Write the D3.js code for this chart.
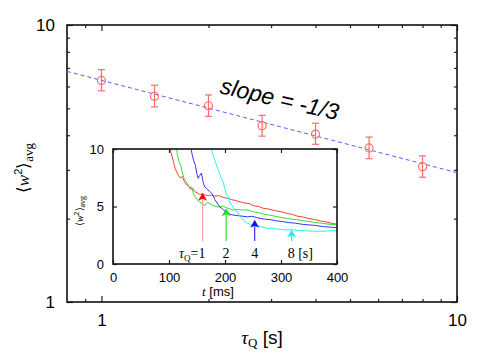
<!DOCTYPE html>
<html>
<head>
<meta charset="utf-8">
<script src="https://cdn.jsdelivr.net/npm/d3@7"></script>
<style>
    body { margin: 0; background: #fff; }
    svg { display: block; font-family: "Liberation Sans", Arial, sans-serif; }
    .serif { font-family: "Liberation Serif", "Times New Roman", serif; }
</style>
</head>
<body>
<div id="chart"></div>
<script>

// main data: quench time (s) vs averaged width, with error bar bounds
const tauQ = [1, 1.41, 2, 2.83, 4, 5.66, 8];
const wAvg = [6.31, 5.53, 5.11, 4.33, 4.04, 3.60, 3.08];
const wLow = [5.79, 5.06, 4.68, 3.97, 3.71, 3.29, 2.82];
const wHigh = [6.90, 6.06, 5.59, 4.72, 4.42, 3.94, 3.37];

// fitted power law endpoints (slope -1/3 in log-log)
const fitTau = [0.8, 10];
const fitW = [6.8, 2.93];

const xMajorTicks = [1, 10];
const xMinorTicks = [0.9, 2, 3, 4, 5, 6, 7, 8, 9];
const yMajorTicks = [1, 10];
const yMinorTicks = [2, 3, 4, 5, 6, 7, 8, 9];

// inset data: time (ms) vs width for each quench time
const redT = [100, 104, 108, 111, 114, 117, 120, 124, 127, 131, 135, 138, 142, 146, 150, 155, 160, 165, 170, 176, 182, 188, 194, 200, 206, 212, 220, 228, 236, 244, 252, 260, 268, 276, 284, 292, 300, 310, 320, 330, 340, 350, 360, 370, 380, 390, 400];
const redW = [10.5, 9.6, 8.9, 8.3, 8.0, 7.7, 7.5, 7.6, 7.2, 6.9, 6.8, 6.5, 6.6, 6.3, 6.2, 6.05, 6.1, 6.0, 5.95, 6.0, 5.9, 5.95, 5.85, 5.75, 5.7, 5.6, 5.5, 5.4, 5.3, 5.25, 5.05, 5.0, 4.85, 4.8, 4.7, 4.62, 4.55, 4.4, 4.32, 4.15, 4.08, 3.95, 3.87, 3.75, 3.66, 3.55, 3.45];
const greenT = [112, 115, 118, 121, 124, 127, 130, 134, 137, 140, 143, 146, 150, 155, 160, 164, 168, 173, 178, 184, 190, 196, 202, 208, 215, 222, 230, 238, 246, 254, 262, 270, 280, 290, 300, 312, 324, 336, 348, 360, 372, 386, 400];
const greenW = [10.5, 9.5, 8.9, 8.6, 7.9, 7.45, 7.2, 6.9, 6.6, 6.7, 6.2, 5.9, 5.6, 5.4, 5.2, 5.1, 5.35, 5.25, 5.1, 5.0, 4.95, 5.05, 4.9, 4.8, 4.7, 4.75, 4.7, 4.7, 4.62, 4.5, 4.45, 4.32, 4.25, 4.15, 4.05, 3.95, 3.87, 3.8, 3.7, 3.62, 3.55, 3.46, 3.4];
const blueT = [138, 141, 144, 147, 150, 152, 155, 158, 161, 164, 168, 173, 177, 182, 186, 190, 195, 200, 205, 210, 216, 224, 232, 240, 248, 256, 264, 272, 282, 292, 302, 314, 326, 338, 350, 362, 376, 388, 400];
const blueW = [10.5, 9.6, 9.0, 8.6, 7.8, 7.45, 7.7, 7.9, 7.1, 6.7, 6.5, 6.3, 6.1, 5.6, 5.3, 5.0, 4.8, 4.6, 4.45, 4.3, 4.25, 4.2, 4.15, 4.1, 4.15, 4.05, 3.95, 3.9, 3.85, 3.75, 3.7, 3.6, 3.55, 3.45, 3.4, 3.35, 3.25, 3.2, 3.15];
const cyanT = [174, 177, 180, 184, 187, 190, 193, 196, 199, 202, 205, 208, 211, 215, 219, 222, 226, 230, 234, 238, 243, 248, 254, 260, 268, 276, 284, 292, 300, 310, 320, 330, 342, 354, 366, 378, 390, 400];
const cyanW = [10.5, 9.7, 9.3, 8.7, 8.3, 7.9, 7.5, 7.2, 6.7, 6.1, 5.9, 5.4, 5.2, 4.9, 4.6, 4.6, 4.2, 3.95, 3.8, 3.6, 3.5, 3.4, 3.35, 3.3, 3.2, 3.1, 3.1, 3.05, 3.0, 2.95, 3.0, 2.9, 2.9, 2.85, 2.85, 2.85, 2.9, 2.9];

// arrows marking where each curve reaches its plateau
const arrowT = [160, 202, 253, 319];
const arrowW = [6.2, 4.85, 3.85, 3.0];
const arrowBase = 2.0;

const insetXTicks = [0, 100, 200, 300, 400];
const insetYTicks = [0, 5, 10];

const width = 491, height = 353;

// main plot area
let margin = {top: 25, left: 67, right: 34, bottom: 51};

let svg = d3.select('#chart')
    .append('svg')
    .attr('width', width)
    .attr('height', height);

let xScale = d3.scaleLog()
        .domain([0.8, 10])
        .range([margin.left, width - margin.right]),
    yScale = d3.scaleLog()
        .domain([1, 10])
        .range([height - margin.bottom, margin.top]);

// helper to draw inward ticks on all four sides
function frameAxes(g, xs, ys, xMaj, xMin, yMaj, yMin, majLen, minLen, fontSize, pad, xFmt, yFmt) {
    let left = xs.range()[0], right = xs.range()[1],
        bottom = ys.range()[0], top = ys.range()[1];

    let axes = [
        [d3.axisBottom(xs).tickValues(xMaj).tickSize(-majLen).tickPadding(pad).tickFormat(xFmt), `translate(0,${bottom})`],
        [d3.axisBottom(xs).tickValues(xMin).tickSize(-minLen).tickFormat(''), `translate(0,${bottom})`],
        [d3.axisTop(xs).tickValues(xMaj).tickSize(-majLen).tickFormat(''), `translate(0,${top})`],
        [d3.axisTop(xs).tickValues(xMin).tickSize(-minLen).tickFormat(''), `translate(0,${top})`],
        [d3.axisLeft(ys).tickValues(yMaj).tickSize(-majLen).tickPadding(pad).tickFormat(yFmt), `translate(${left},0)`],
        [d3.axisLeft(ys).tickValues(yMin).tickSize(-minLen).tickFormat(''), `translate(${left},0)`],
        [d3.axisRight(ys).tickValues(yMaj).tickSize(-majLen).tickFormat(''), `translate(${right},0)`],
        [d3.axisRight(ys).tickValues(yMin).tickSize(-minLen).tickFormat(''), `translate(${right},0)`]
    ];

    axes.forEach(([ax, tr]) => {
        let a = g.append('g').attr('transform', tr).call(ax);
        a.select('.domain').remove();
        a.selectAll('line').attr('stroke', '#222').attr('stroke-width', 1.2);
        a.selectAll('text')
            .attr('fill', '#000')
            .style('font-family', '"Liberation Sans", Arial, sans-serif')
            .style('font-size', fontSize + 'px');
    });

    // frame
    g.append('rect')
        .attr('x', left)
        .attr('y', top)
        .attr('width', right - left)
        .attr('height', bottom - top)
        .attr('fill', 'none')
        .attr('stroke', '#111')
        .attr('stroke-width', 1.6);
}

let mainG = svg.append('g');
frameAxes(mainG, xScale, yScale, xMajorTicks, xMinorTicks, yMajorTicks, yMinorTicks,
    6, 3, 17, 12, d3.format('d'), d3.format('d'));

// fit line
let fitData = fitTau.map((t, i) => ({t: t, w: fitW[i]}));
mainG.append('path')
    .datum(fitData)
    .attr('fill', 'none')
    .attr('stroke', '#5b5bff')
    .attr('stroke-width', 1)
    .attr('stroke-dasharray', '4,3')
    .attr('d', d3.line().x(d => xScale(d.t)).y(d => yScale(d.w)));

// error bars and points
let pts = tauQ.map((t, i) => ({t: t, w: wAvg[i], lo: wLow[i], hi: wHigh[i]}));
let errColor = '#ff6b6b';

let eb = mainG.selectAll('.err')
    .data(pts).enter()
    .append('g')
    .classed('err', true);

eb.append('line')
    .attr('x1', d => xScale(d.t)).attr('x2', d => xScale(d.t))
    .attr('y1', d => yScale(d.lo)).attr('y2', d => yScale(d.hi))
    .attr('stroke', errColor).attr('stroke-width', 1.2);
eb.append('line')
    .attr('x1', d => xScale(d.t) - 3.5).attr('x2', d => xScale(d.t) + 3.5)
    .attr('y1', d => yScale(d.lo)).attr('y2', d => yScale(d.lo))
    .attr('stroke', errColor).attr('stroke-width', 1.2);
eb.append('line')
    .attr('x1', d => xScale(d.t) - 3.5).attr('x2', d => xScale(d.t) + 3.5)
    .attr('y1', d => yScale(d.hi)).attr('y2', d => yScale(d.hi))
    .attr('stroke', errColor).attr('stroke-width', 1.2);
eb.append('circle')
    .attr('cx', d => xScale(d.t))
    .attr('cy', d => yScale(d.w))
    .attr('r', 4)
    .attr('fill', 'none')
    .attr('stroke', errColor)
    .attr('stroke-width', 1.2);

// slope annotation
svg.append('text')
    .attr('transform', 'translate(219,93) rotate(13)')
    .style('font-size', '23px')
    .style('font-style', 'italic')
    .text('slope = -1/3');

// main axis labels
let xLab = svg.append('text')
    .attr('x', 262)
    .attr('y', 344)
    .attr('text-anchor', 'middle')
    .style('font-size', '19px');
xLab.append('tspan').classed('serif', true).style('font-style', 'italic').text('τ');
xLab.append('tspan').classed('serif', true).attr('dy', 3).style('font-size', '13px').text('Q');
xLab.append('tspan').attr('dy', -3).text(' [s]');

let yLab = svg.append('text')
    .attr('transform', 'translate(29,168) rotate(-90)')
    .attr('text-anchor', 'middle')
    .style('font-size', '17px');
yLab.append('tspan').text('⟨');
yLab.append('tspan').classed('serif', true).style('font-style', 'italic').text('w');
yLab.append('tspan').attr('dy', -7).style('font-size', '11px').text('2');
yLab.append('tspan').attr('dy', 7).text('⟩');
yLab.append('tspan').classed('serif', true).attr('dy', 4).style('font-size', '13px').text('avg');

// inset
let xi = d3.scaleLinear().domain([0, 400]).range([113, 337]),
    yi = d3.scaleLinear().domain([0, 10]).range([264, 149]);

let inset = svg.append('g');
inset.append('rect')
    .attr('x', 113).attr('y', 149)
    .attr('width', 224).attr('height', 115)
    .attr('fill', '#fff');

svg.append('clipPath')
    .attr('id', 'insetClip')
    .append('rect')
    .attr('x', 113).attr('y', 149)
    .attr('width', 224).attr('height', 115);

let curves = [
    {t: redT, w: redW, color: '#ff3b3b'},
    {t: greenT, w: greenW, color: '#33e033'},
    {t: blueT, w: blueW, color: '#3535ff'},
    {t: cyanT, w: cyanW, color: '#2ef0f0'}
];

let line = d3.line().x(d => xi(d[0])).y(d => yi(d[1]));
inset.append('g')
    .attr('clip-path', 'url(#insetClip)')
    .selectAll('path')
    .data(curves).enter()
    .append('path')
    .attr('fill', 'none')
    .attr('stroke', d => d.color)
    .attr('stroke-width', 1)
    .attr('d', d => line(d.t.map((t, i) => [t, d.w[i]])));

// arrows
let arrowColors = ['#ff0000', '#22dd22', '#1010ff', '#22eeee'];
let arrowLine = ['#ffa0a0', '#33dd33', '#3535ff', '#33eeee'];
let arrows = arrowT.map((t, i) => ({t: t, w: arrowW[i], c: arrowColors[i], lc: arrowLine[i]}));

let ag = inset.selectAll('.arrow')
    .data(arrows).enter()
    .append('g')
    .classed('arrow', true);
ag.append('line')
    .attr('x1', d => xi(d.t)).attr('x2', d => xi(d.t))
    .attr('y1', yi(arrowBase)).attr('y2', d => yi(d.w) + 4)
    .attr('stroke', d => d.lc)
    .attr('stroke-width', 1.2);
ag.append('path')
    .attr('fill', d => d.c)
    .attr('d', d => {
        let x = xi(d.t), y = yi(d.w);
        return `M${x},${y} L${x - 4.5},${y + 8} L${x},${y + 6} L${x + 4.5},${y + 8} Z`;
    });

frameAxes(inset, xi, yi, insetXTicks, [], insetYTicks, [], 4, 0, 13, 9, d3.format('d'), d3.format('d'));

// quench time labels
let tl = inset.append('text')
    .classed('serif', true)
    .attr('x', xi(165))
    .attr('y', 258)
    .attr('text-anchor', 'end')
    .style('font-size', '14px');
tl.append('tspan').style('font-style', 'italic').text('τ');
tl.append('tspan').attr('dy', 3).style('font-size', '9px').text('Q');
tl.append('tspan').attr('dy', -3).text('=1');

[['2', 202], ['4', 253]].forEach(([s, t]) => {
    inset.append('text')
        .classed('serif', true)
        .attr('x', xi(t))
        .attr('y', 258)
        .attr('text-anchor', 'middle')
        .style('font-size', '14px')
        .text(s);
});
inset.append('text')
    .classed('serif', true)
    .attr('x', xi(319) - 4)
    .attr('y', 258)
    .style('font-size', '14px')
    .text('8 [s]');

// inset axis labels
let tLab = inset.append('text')
    .attr('x', 218)
    .attr('y', 296)
    .attr('text-anchor', 'middle')
    .style('font-size', '13px');
tLab.append('tspan').classed('serif', true).style('font-style', 'italic').text('t');
tLab.append('tspan').text(' [ms]');

let iyLab = inset.append('text')
    .attr('transform', 'translate(83,211) rotate(-90)')
    .attr('text-anchor', 'middle')
    .style('font-size', '10px');
iyLab.append('tspan').text('⟨');
iyLab.append('tspan').classed('serif', true).style('font-style', 'italic').text('w');
iyLab.append('tspan').attr('dy', -4).style('font-size', '7px').text('2');
iyLab.append('tspan').attr('dy', 4).text('⟩');
iyLab.append('tspan').classed('serif', true).attr('dy', 2).style('font-size', '8px').text('avg');

</script>
</body>
</html>
